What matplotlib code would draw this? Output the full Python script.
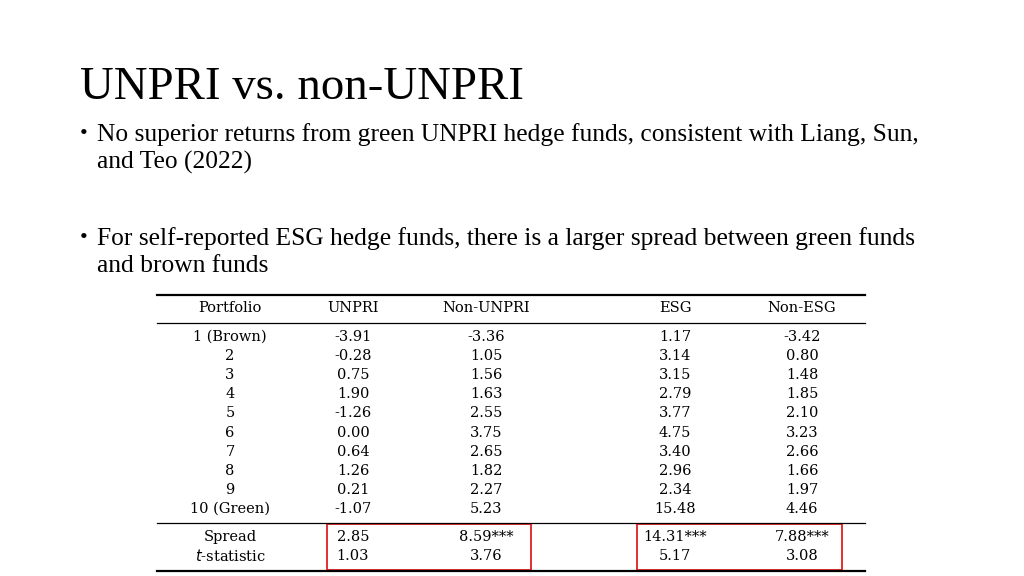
import matplotlib
matplotlib.use("Agg")
import matplotlib.pyplot as plt
from matplotlib.patches import Rectangle

title = "UNPRI vs. non-UNPRI"
bullets = [
    ("No superior returns from green UNPRI hedge funds, consistent with Liang, Sun,", "and Teo (2022)"),
    ("For self-reported ESG hedge funds, there is a larger spread between green funds", "and brown funds"),
]
headers = ["Portfolio", "UNPRI", "Non-UNPRI", "ESG", "Non-ESG"]
portfolios = ["1 (Brown)", "2", "3", "4", "5", "6", "7", "8", "9", "10 (Green)"]
unpri = ["-3.91", "-0.28", "0.75", "1.90", "-1.26", "0.00", "0.64", "1.26", "0.21", "-1.07"]
non_unpri = ["-3.36", "1.05", "1.56", "1.63", "2.55", "3.75", "2.65", "1.82", "2.27", "5.23"]
esg = ["1.17", "3.14", "3.15", "2.79", "3.77", "4.75", "3.40", "2.96", "2.34", "15.48"]
non_esg = ["-3.42", "0.80", "1.48", "1.85", "2.10", "3.23", "2.66", "1.66", "1.97", "4.46"]
stat_labels = ["Spread", "$t$-statistic"]
stat_unpri = ["2.85", "1.03"]
stat_non_unpri = ["8.59***", "3.76"]
stat_esg = ["14.31***", "5.17"]
stat_non_esg = ["7.88***", "3.08"]

W, H = 1024, 576
fig = plt.figure(figsize=(W/100, H/100), dpi=100)
ax = fig.add_axes([0, 0, 1, 1])
ax.set_xlim(0, W); ax.set_ylim(H, 0); ax.axis("off")

serif = "Liberation Serif"
ax.text(80, 88, title, fontsize=33.7, family=serif, va="center", ha="left")
by = [135, 239]
for (l1, l2), y in zip(bullets, by):
    ax.text(80, y, "•", fontsize=16, family=serif, va="center")
    ax.text(97, y, l1, fontsize=18.4, family=serif, va="center")
    ax.text(97, y + 27, l2, fontsize=18.4, family=serif, va="center")

tf = "DejaVu Serif"
fs = 10.5
cols = [230, 353, 486, 675, 802]
x0, x1 = 157, 865
for y, lw in [(295, 1.6), (323, 0.9), (523, 0.9), (571, 1.6)]:
    ax.plot([x0, x1], [y, y], color="black", lw=lw)
for c, h in zip(cols, headers):
    ax.text(c, 308, h, fontsize=fs, family=tf, ha="center", va="center")
step = (509 - 337) / 9
series = [portfolios, unpri, non_unpri, esg, non_esg]
for i in range(len(portfolios)):
    y = 337 + i * step
    for c, s in zip(cols, series):
        ax.text(c, y, s[i], fontsize=fs, family=tf, ha="center", va="center")
stats = [stat_labels, stat_unpri, stat_non_unpri, stat_esg, stat_non_esg]
for i in range(2):
    y = 537 + i * 19
    for c, s in zip(cols, stats):
        ax.text(c, y, s[i], fontsize=fs, family=tf, ha="center", va="center")
for bx in [(327, 531), (637, 842)]:
    ax.add_patch(Rectangle((bx[0], 524), bx[1]-bx[0], 46, fill=False, ec="#e02020", lw=1.3))

fig.savefig("out.png", dpi=100, facecolor="white")
